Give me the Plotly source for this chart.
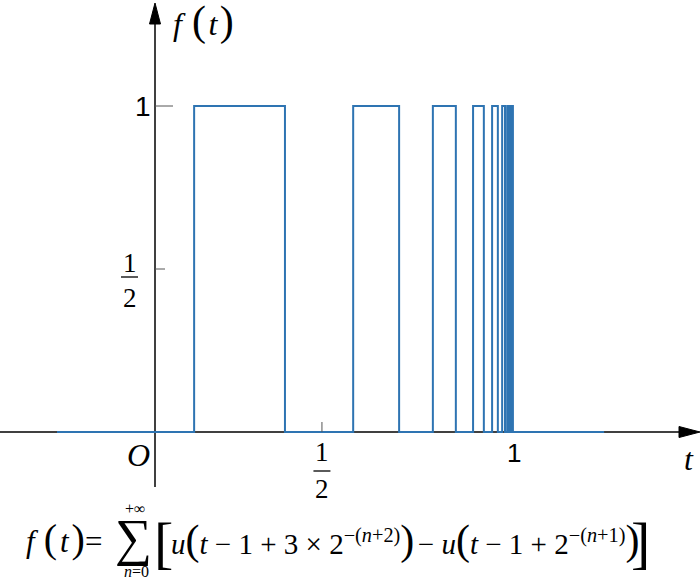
import plotly.graph_objects as go

# ---------------- data ----------------
t_start = -0.273          # where the drawn signal begins (left)
t_end = 1.251             # where the drawn signal ends (right)
pulse_rise = [0.109, 0.552, 0.774, 0.886, 0.939, 0.967, 0.981, 0.989, 0.9935, 0.996]
pulse_fall = [0.362, 0.680, 0.838, 0.916, 0.955, 0.975, 0.985, 0.991, 0.995, 0.997]
pulse_level = [1, 1, 1, 1, 1, 1, 1, 1, 1, 1]

x_tick_vals = [0.465, 1.0]
x_tick_text = ["1/2", "1"]
y_tick_vals = [0.5, 1.0]
y_tick_text = ["1/2", "1"]

# ---------------- geometry ----------------
W, H = 700, 578
X0_PX, X_SCALE = 155, 359     # pixel of t=0, pixels per unit t
Y0_PX, Y_SCALE = 432, 326     # pixel of f=0, pixels per unit f

x_range = [-X0_PX / X_SCALE, (W - X0_PX) / X_SCALE]
y_range = [-(H - Y0_PX) / Y_SCALE, Y0_PX / Y_SCALE]


def px(x):
    return x / W


def py(y):
    return 1 - y / H


# build step waveform
xs = [t_start]
ys = [0]
for r, f, lv in zip(pulse_rise, pulse_fall, pulse_level):
    xs += [r, r, f, f]
    ys += [0, lv, lv, 0]
xs.append(t_end)
ys.append(0)

fig = go.Figure()
fig.add_trace(go.Scatter(x=xs, y=ys, mode="lines",
                         line=dict(color="#2e74b2", width=2),
                         hoverinfo="skip", showlegend=False))

BLACK = "#000000"
shapes = []
# x axis
shapes.append(dict(type="line", xref="paper", yref="y", x0=0, x1=px(688), y0=0, y1=0,
                   line=dict(color=BLACK, width=1.5), layer="below"))
# y axis
shapes.append(dict(type="line", xref="x", yref="paper", x0=0, x1=0, y0=py(487), y1=py(15),
                   line=dict(color=BLACK, width=1.5), layer="below"))
# arrowheads
shapes.append(dict(type="path", xref="paper", yref="paper",
                   path=f"M {px(700)} {py(Y0_PX)} L {px(679)} {py(Y0_PX-5.5)} L {px(679)} {py(Y0_PX+5.5)} Z",
                   fillcolor=BLACK, line=dict(color=BLACK, width=1)))
shapes.append(dict(type="path", xref="paper", yref="paper",
                   path=f"M {px(X0_PX)} {py(3)} L {px(X0_PX-5.5)} {py(24)} L {px(X0_PX+5.5)} {py(24)} Z",
                   fillcolor=BLACK, line=dict(color=BLACK, width=1)))

# ticks
tick_col = "#555555"
for v in x_tick_vals:
    if v < 0.9:
        shapes.append(dict(type="line", xref="x", yref="paper", x0=v, x1=v,
                           y0=py(Y0_PX), y1=py(Y0_PX - 10), line=dict(color=tick_col, width=1)))
for v in y_tick_vals:
    ln = 18 if v == 1.0 else 10
    shapes.append(dict(type="line", xref="paper", yref="y", x0=px(X0_PX), x1=px(X0_PX + ln),
                       y0=v, y1=v, line=dict(color=tick_col, width=1)))

SERIF = "Liberation Serif"
SANS = "Liberation Sans"
annotations = []
NB = "\u00a0"


def sp(n):
    return "<span style='font-size:%dpx'>%s</span>" % (n, NB)


def big(ch, n):
    return "<span style='font-size:%dpx'>%s</span>" % (n, ch)


def ann(text, x, y, size, family=SERIF, xref="paper", yref="paper", xanchor="center", yanchor="middle"):
    annotations.append(dict(text=text, x=x, y=y, xref=xref, yref=yref, showarrow=False,
                            xanchor=xanchor, yanchor=yanchor,
                            font=dict(family=family, size=size, color=BLACK)))


# tick labels
for v, lab in zip(x_tick_vals, x_tick_text):
    if lab == "1/2":
        ann("1", v, py(452), 27, xref="x")
        ann("2", v, py(489), 27, xref="x")
        shapes.append(dict(type="line", xref="x", yref="paper", x0=v - 8.5 / X_SCALE, x1=v + 8.5 / X_SCALE,
                           y0=py(471), y1=py(471), line=dict(color=BLACK, width=1.3)))
    else:
        ann(lab, v, py(453), 26, family=SANS, xref="x")
for v, lab in zip(y_tick_vals, y_tick_text):
    if lab == "1/2":
        ann("1", px(129.5), py(263), 27)
        ann("2", px(129.5), py(298), 27)
        shapes.append(dict(type="line", xref="paper", yref="paper", x0=px(121), x1=px(138),
                           y0=py(277), y1=py(277), line=dict(color=BLACK, width=1.3)))
    else:
        ann(lab, px(143), 1.0, 28, family=SANS, yref="y")

# axis labels
ann("<i>f</i>" + sp(40) + big("(", 42) + sp(10) + "<i>t</i>" + sp(10) + big(")", 42),
    px(203), py(21), 32)
ann("<i>O</i>", px(138), py(455), 32)
ann("<i>t</i>", px(689), py(459), 32)

# formula at the bottom
ann("<i>f</i>" + sp(36) + big("(", 40) + sp(12) + "<i>t</i>" + sp(12) + big(")", 40) + "=",
    px(24), py(538), 31, xanchor="left")
ann("∑", px(133), py(538), 52)
ann("+∞", px(135), py(509), 16)
ann("<i>n</i>=0", px(136), py(571), 16)
ann("[", px(163), py(542), 58)
ann("<i>u</i>" + big("(", 42) + "<i>t</i>" + NB + "−" + NB + "1" + NB + "+" + NB + "3" + NB + "×" + NB
    + "2<sup>−(<i>n</i>+2)</sup>" + big(")", 42) + sp(14) + "−" + NB + "<i>u</i>" + big("(", 42)
    + "<i>t</i>" + NB + "−" + NB + "1" + NB + "+" + NB + "2<sup>−(<i>n</i>+1)</sup>" + big(")", 42),
    px(169), py(540), 29, xanchor="left")
ann("]", px(640), py(542), 58)

fig.update_layout(
    width=W, height=H,
    margin=dict(l=0, r=0, t=0, b=0),
    paper_bgcolor="white", plot_bgcolor="white",
    xaxis=dict(range=x_range, visible=False, domain=[0, 1], fixedrange=True),
    yaxis=dict(range=y_range, visible=False, domain=[0, 1], fixedrange=True),
    shapes=shapes, annotations=annotations,
    showlegend=False,
)

fig.write_html("out.html", config={"displayModeBar": False},
               post_script="document.body.style.margin='0px';document.body.style.overflow='hidden';")
